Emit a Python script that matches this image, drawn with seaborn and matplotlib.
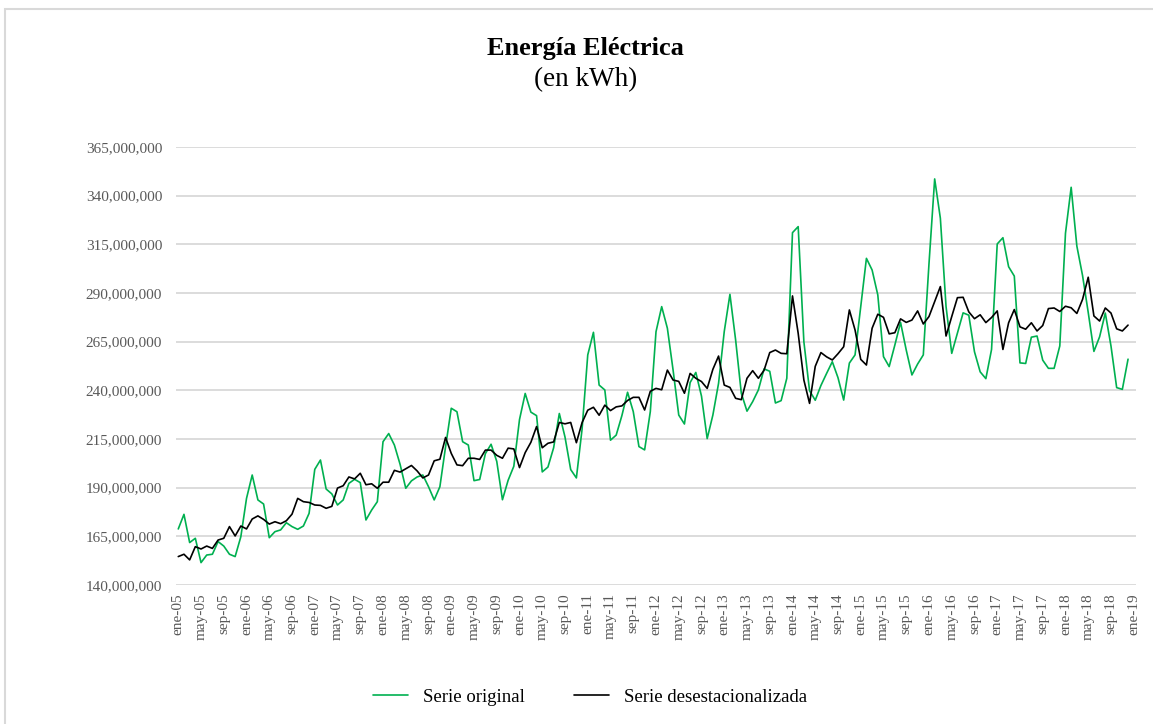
import numpy as np
import pandas as pd
import matplotlib
matplotlib.use("Agg")
import matplotlib.pyplot as plt
from matplotlib.ticker import FuncFormatter
from matplotlib.patches import Rectangle
import seaborn as sns

# valores en millones de kWh, mensuales desde ene-05 hasta dic-18
serie_original = [
    168.8, 176.3, 161.8, 164.0, 151.5, 155.4, 155.8, 162.3, 160.0, 155.8, 154.6, 164.8,
    184.5, 196.5, 183.7, 181.6, 164.3, 167.4, 168.3, 172.0, 170.0, 168.6, 170.3, 176.8,
    199.4, 204.2, 189.3, 186.8, 181.1, 183.7, 192.2, 194.3, 192.6, 173.4, 178.5, 182.8,
    213.6, 217.8, 211.9, 202.0, 189.7, 193.5, 195.5, 196.5, 190.5, 183.7, 190.5, 211.0,
    230.8, 229.0, 213.6, 211.9, 193.6, 194.2, 207.5, 212.3, 203.5, 183.8, 193.8, 201.0,
    225.0, 238.4, 228.8, 227.0, 198.1, 200.6, 210.5, 228.1, 216.0, 199.3, 195.0, 220.0,
    258.2, 269.8, 242.7, 240.2, 214.4, 217.0, 227.0, 239.0, 229.1, 211.1, 209.4, 229.1,
    270.1, 283.0, 271.9, 250.5, 227.3, 222.7, 244.0, 249.2, 237.0, 215.2, 227.3, 243.6,
    270.2, 289.3, 265.9, 238.5, 229.3, 234.2, 240.2, 251.0, 249.8, 233.5, 234.7, 246.2,
    321.0, 324.1, 265.0, 239.8, 234.9, 242.5, 248.7, 254.7, 246.5, 235.0, 254.0, 258.2,
    283.0, 307.8, 301.8, 289.0, 257.3, 252.2, 263.3, 274.9, 260.7, 247.9, 253.5, 258.2,
    305.0, 348.6, 328.4, 283.0, 259.0, 269.3, 279.8, 278.6, 259.8, 249.5, 246.0, 261.0,
    315.2, 318.4, 303.5, 298.7, 254.1, 253.8, 267.3, 267.9, 255.5, 251.3, 251.3, 262.8,
    320.7, 344.3, 314.1, 299.0, 280.0, 260.0, 267.5, 279.7, 262.8, 241.4, 240.5, 256.0,
]
serie_desest = [
    154.6, 155.8, 152.9, 159.7, 158.5, 160.0, 158.8, 163.1, 164.0, 170.0, 165.2, 170.3,
    168.8, 173.9, 175.5, 173.7, 171.3, 172.5, 171.5, 173.0, 176.4, 184.5, 182.8, 182.4,
    181.1, 180.9, 179.4, 180.4, 189.8, 191.0, 195.5, 194.5, 197.4, 191.5, 192.0, 189.7,
    192.8, 192.8, 198.9, 198.0, 199.7, 201.4, 198.6, 195.0, 196.5, 203.8, 204.6, 215.8,
    207.6, 201.7, 201.3, 205.1, 205.1, 204.5, 209.3, 209.3, 206.6, 205.1, 210.3, 209.9,
    200.3, 208.0, 213.3, 221.4, 210.5, 212.8, 213.5, 223.5, 222.8, 223.5, 213.1, 223.4,
    229.8, 231.3, 227.2, 232.4, 229.6, 231.5, 232.0, 234.8, 236.4, 236.4, 229.9, 239.5,
    241.0, 240.3, 250.4, 245.3, 244.6, 238.5, 248.7, 246.2, 244.5, 241.0, 250.8, 257.6,
    242.7, 241.5, 235.9, 235.2, 246.2, 250.1, 246.2, 250.3, 259.4, 260.7, 259.0, 258.8,
    288.5, 269.3, 245.3, 233.3, 252.3, 259.4, 257.2, 255.6, 258.8, 262.4, 281.3, 271.0,
    255.9, 253.0, 271.9, 279.1, 277.5, 269.0, 269.6, 276.7, 274.9, 276.1, 280.8, 274.1,
    277.9, 285.6, 293.3, 267.9, 277.9, 287.6, 287.8, 280.3, 276.8, 278.8, 274.8, 277.4,
    280.8, 261.0, 274.7, 281.5, 272.6, 271.4, 274.7, 270.5, 273.3, 282.0, 282.3, 280.5,
    283.2, 282.4, 279.5, 286.7, 298.1, 278.2, 275.6, 282.3, 279.7, 271.6, 270.5, 273.5,
]
meses = ["ene", "feb", "mar", "abr", "may", "jun", "jul", "ago", "sep", "oct", "nov", "dic"]
anio_inicio = 2005
n_meses_eje = 169  # eje hasta ene-19

mes_idx = np.arange(len(serie_original))
df = pd.DataFrame({
    "mes": np.concatenate([mes_idx, mes_idx]),
    "kwh": np.array(serie_original + serie_desest) * 1e6,
    "serie": ["Serie original"] * len(mes_idx) + ["Serie desestacionalizada"] * len(mes_idx),
})

sns.set_style("white")
plt.rcParams["font.family"] = ["Liberation Serif", "DejaVu Serif"]

fig = plt.figure(figsize=(11.53, 7.24), dpi=100)
ax = fig.add_axes([176 / 1153, 1 - 585 / 724, 960 / 1153, 438 / 724])

sns.lineplot(data=df, x="mes", y="kwh", hue="serie",
             palette={"Serie original": "#00B050", "Serie desestacionalizada": "#000000"},
             linewidth=1.2, ax=ax, legend=False)

ax.set_ylim(140e6, 365e6)
ax.set_yticks(np.arange(140e6, 365e6 + 1, 25e6))
ax.yaxis.set_major_formatter(FuncFormatter(lambda v, p: f"{v:,.0f}"))
ax.set_xlim(-0.4, 168.4)
ticks = np.arange(0, n_meses_eje, 4)
ax.set_xticks(ticks)
ax.set_xticklabels([f"{meses[t % 12]}-{(anio_inicio + t // 12) % 100:02d}" for t in ticks],
                   rotation=90)
ax.grid(axis="y", color="#d9d9d9", linewidth=1.3)
ax.grid(axis="x", visible=False)
for s in ax.spines.values():
    s.set_visible(False)
ax.tick_params(axis="y", length=0, pad=10, labelsize=11, labelcolor="#595959")
ax.tick_params(axis="x", length=0, pad=6, labelsize=11, labelcolor="#595959")
ax.set_xlabel("")
ax.set_ylabel("")

fig.text(0.508, 1 - 48 / 724, "Energía Eléctrica", ha="center", va="center",
         fontsize=19, fontweight="bold", color="black")
fig.text(0.508, 1 - 80 / 724, "(en kWh)", ha="center", va="center", fontsize=19.5,
         color="black")

h1, = ax.plot([], [], color="#00B050", linewidth=1.2)
h2, = ax.plot([], [], color="#000000", linewidth=1.2)
fig.legend([h1, h2], ["Serie original", "Serie desestacionalizada"],
           loc="center", bbox_to_anchor=(590 / 1153, 1 - 697 / 724), ncol=2,
           frameon=False, fontsize=13.5, handlelength=1.9, handletextpad=0.8,
           columnspacing=2.6, labelcolor="black")

fig.patches.append(Rectangle((5 / 1153, -0.05), 1.1, 1 - 9 / 724 + 0.05,
                             transform=fig.transFigure, fill=False,
                             edgecolor="#d9d9d9", linewidth=1.5))

fig.savefig("out.png", dpi=100)
